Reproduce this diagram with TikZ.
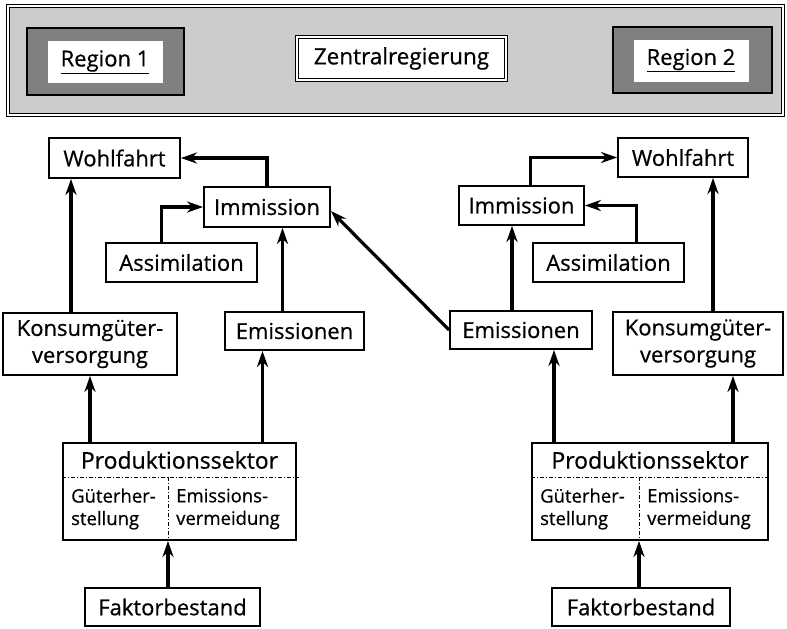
\documentclass[tikz,border=0pt]{standalone}
\usepackage{fontspec}
\setmainfont{Open Sans}[FakeBold=0.6]
\usetikzlibrary{arrows.meta}

\begin{document}
\begin{tikzpicture}
[x=1pt,y=-1pt,
  boxDecorate/.style={shape=rectangle,draw,line width=1.8pt,inner sep=0pt,align=center,
    font=\fontsize{22}{27}\selectfont},%
  smallText/.style={inner sep=0pt,align=left,font=\fontsize{18.5}{22.5}\selectfont},%
  arrowDecorate/.style={-{Stealth[length=16pt,width=11pt,inset=5pt]},line width=3.2pt},%
  dividerDecorate/.style={line width=1pt,dash pattern=on 4pt off 2pt on 1pt off 2pt}]
\useasboundingbox (0,0) rectangle (787,629);
%% banner with the governments
\node (banner) at (395.5,60.5) [draw,fill=black!20,line width=1pt,double,double distance=1.8pt,
  minimum width=775pt,minimum height=109pt] {};
\foreach \nodename/\x/\y/\w/\h/\inx/\iny/\txt in {
  reg1/105.5/61.5/157/67/105/62/Region 1,
  reg2/692.5/60/159/66/691/60.5/Region 2}
{
  \node (\nodename) at (\x,\y) [draw,fill=black!50,line width=1.6pt,minimum width=\w pt,minimum height=\h pt] {};
  \node (\nodename in) at (\inx,\iny) [fill=white,minimum width=115pt,minimum height=42pt,
    font=\fontsize{22}{26}\selectfont] {\underline{\txt}};
}
\node (zentral) at (401.5,58.5) [draw,fill=white,line width=1pt,double,double distance=1.6pt,
  minimum width=209pt,minimum height=43pt,font=\fontsize{22.5}{26}\selectfont] {Zentralregierung};
%% nodes or boxes
\foreach \nodename/\x/\y/\w/\h/\txt in {
  wohlL/114.5/158/131/40/Wohlfahrt, immL/267/207/126/40/Immission,
  assL/181.5/262.5/151/39/Assimilation, konsL/90/344/174/62/Konsumgüter-\\versorgung,
  emiL/294.5/331/139/38/Emissionen, prodL/179.5/491.5/233/97/,
  faktL/172.5/607/175/38/Faktorbestand,
  wohlR/683/157.5/130/39/Wohlfahrt, immR/521.5/205.5/125/39/Immission,
  assR/608.5/262.5/151/39/Assimilation, emiR/521/330/142/38/Emissionen,
  konsR/698/343.5/170/63/Konsumgüter-\\versorgung, prodR/650/491.5/236/97/,
  faktR/641/607/178/38/Faktorbestand}
{
  \node (\nodename) at (\x,\y) [boxDecorate,minimum width=\w pt,minimum height=\h pt] {\txt};
}
%% inside the production sectors
\coordinate (divL) at (168,477);
\coordinate (divR) at (639,477);
\draw[dividerDecorate] (prodL.west |- divL) -- ([xshift=2pt]prodL.east |- divL);
\draw[dividerDecorate] (divL) -- (divL |- prodL.south);
\draw[dividerDecorate] (prodR.west |- divR) -- ([xshift=2pt]prodR.east |- divR);
\draw[dividerDecorate] (divR) -- (divR |- prodR.south);
\node (titleL) at (prodL.center |- 0,460) [font=\fontsize{23}{27}\selectfont] {Produktionssektor};
\node (titleR) at (prodR.center |- 0,460) [font=\fontsize{23}{27}\selectfont] {Produktionssektor};
\node (gutL) at (71,509) [smallText,anchor=west] {Güterher-\\stellung};
\node (vermL) at (176,509) [smallText,anchor=west] {Emissions-\\vermeidung};
\node (gutR) at (540,509) [smallText,anchor=west] {Güterher-\\stellung};
\node (vermR) at (647,509) [smallText,anchor=west] {Emissions-\\vermeidung};
%% arrows, left region
\draw[arrowDecorate] ([xshift=-19pt]konsL.north) -- ([xshift=-19pt]konsL.north |- wohlL.south);
\draw[arrowDecorate] (immL.north) |- (wohlL.east);
\draw[arrowDecorate] ([xshift=-20pt]assL.north) |- (immL.west);
\draw[arrowDecorate] ([xshift=-12pt]emiL.north) -- ([xshift=-12pt]emiL.north |- immL.south);
\draw[arrowDecorate] (prodL.north -| konsL.south) -- (konsL.south);
\draw[arrowDecorate] ([xshift=-32pt]emiL.south |- prodL.north) -- ([xshift=-32pt]emiL.south);
\draw[arrowDecorate] (faktL.north -| divL) -- (prodL.south -| divL);
%% arrows, right region
\draw[arrowDecorate] ([xshift=15pt]konsR.north) -- ([xshift=15pt]konsR.north |- wohlR.south);
\draw[arrowDecorate] ([xshift=9pt]immR.north) |- (wohlR.west);
\draw[arrowDecorate] ([xshift=28pt]assR.north) |- (immR.east);
\draw[arrowDecorate] ([xshift=-9pt]emiR.north) -- ([xshift=-9pt]emiR.north |- immR.south);
\draw[arrowDecorate] ([xshift=33pt]emiR.south |- prodR.north) -- ([xshift=33pt]emiR.south);
\draw[arrowDecorate] ([xshift=35pt]konsR.south |- prodR.north) -- ([xshift=35pt]konsR.south);
\draw[arrowDecorate] (faktR.north -| divR) -- (prodR.south -| divR);
%% spill-over between the regions
\draw[arrowDecorate] (emiR.west) -- ([yshift=-4pt]immL.east);
\end{tikzpicture}
\end{document}
